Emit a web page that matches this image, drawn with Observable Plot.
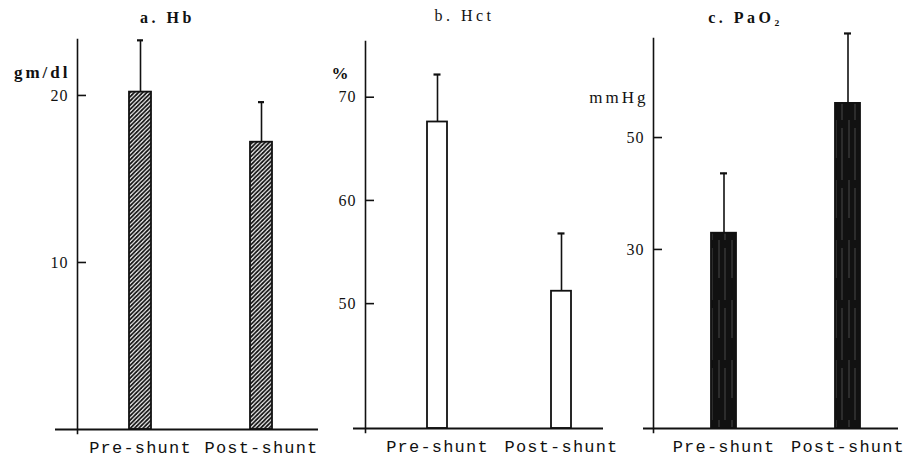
<!DOCTYPE html>
<html>
<head>
<meta charset="utf-8">
<script src="https://cdn.jsdelivr.net/npm/d3@7"></script>
<script src="https://cdn.jsdelivr.net/npm/@observablehq/plot@0.6"></script>
<style>
  html, body { margin: 0; padding: 0; background: #fff; }
  #chart { position: relative; width: 911px; height: 460px; overflow: hidden; }
  #chart svg { position: absolute; left: 0; top: 0; }
  [aria-label="x-axis tick label"] text { letter-spacing: 1.2px; }
  [aria-label="y-axis tick label"] text { letter-spacing: 1px; }
</style>
</head>
<body>
<div id="chart"></div>
<script>
// ---- data ----
const categories = ["Pre-shunt", "Post-shunt"];

const hbMean = [20.2, 17.2];
const hbSD = [3.1, 2.4];
const hbTicks = [10, 20];

const hctMean = [67.6, 51.2];
const hctSD = [4.6, 5.6];
const hctTicks = [50, 60, 70];

const paoMean = [32.9, 56.1];
const paoSD = [10.7, 12.5];
const paoTicks = [30, 50];

const titles = ["a. Hb", "b. Hct", "c. PaO₂"];
const units = ["gm/dl", "%", "mmHg"];

// ---- drawing ----
const W = 911, H = 460;
const chart = document.getElementById("chart");

function panel(o) {
  const data = categories.map((c, i) => ({cat: c, mean: o.mean[i], sd: o.sd[i]}));
  const plot = Plot.plot({
    width: W, height: H,
    marginLeft: o.axisX, marginRight: W - o.baseR, marginTop: o.top, marginBottom: H - o.bottom,
    style: {background: "transparent", overflow: "visible", fontFamily: "'Liberation Serif', serif", fontSize: "16px", color: "#111"},
    x: {domain: categories, paddingInner: o.pi, paddingOuter: o.po, align: o.align, axis: null},
    y: {domain: o.domain, axis: null},
    marks: [
      Plot.barY(data, {x: "cat", y1: o.domain[0], y2: "mean", fill: o.fill, stroke: "#111", strokeWidth: 1.8}),
      Plot.ruleX(data, {x: "cat", y1: "mean", y2: d => d.mean + d.sd, stroke: "#111", strokeWidth: 1.6}),
      Plot.tickY(data, {x: "cat", y: d => d.mean + d.sd, insetLeft: o.cap, insetRight: o.cap, stroke: "#111", strokeWidth: 2.2}),
      Plot.ruleY([o.domain[0]], {insetLeft: -(o.axisX - o.baseL), stroke: "#111", strokeWidth: 2}),
      Plot.frame({anchor: "left", insetBottom: -4, stroke: "#111", strokeWidth: 1.6}),
      Plot.axisY({ticks: o.ticks, tickSize: -9, tickPadding: 18, label: null, stroke: "#111", strokeWidth: 1.6, fill: "#111"}),
      Plot.axisX({tickSize: 0, tickPadding: 11, label: null, fontFamily: "'Liberation Mono', monospace", fontSize: 17, fill: "#111"}),
      Plot.text([o.title], {text: d => d, frameAnchor: "top-left", dx: o.titleDx, dy: o.titleDy, lineAnchor: "bottom", textAnchor: "middle", fontWeight: o.titleWeight, fontSize: 16, fill: "#111"}),
      Plot.text([o.unit], {text: d => d, frameAnchor: "top-left", dx: o.unitDx, dy: o.unitDy, lineAnchor: "bottom", textAnchor: "end", fontWeight: o.unitWeight, fontSize: 17, fill: "#111"})
    ]
  });
  if (o.defs) d3.select(plot).insert("defs", ":first-child").html(o.defs);
  d3.select(plot).selectAll('g[aria-label="text"] text').each(function () {
    const t = this.textContent;
    if (titles.includes(t)) this.style.letterSpacing = "3.5px";
    else if (units.includes(t)) this.style.letterSpacing = "3px";
  });
  chart.appendChild(plot);
}

const hatchDefs = `
<pattern id="hatch" patternUnits="userSpaceOnUse" width="4.2" height="4.2">
  <rect width="4.2" height="4.2" fill="#fff"/>
  <path d="M-1,1 L1,-1 M0,4.2 L4.2,0 M3.2,5.2 L5.2,3.2" stroke="#111" stroke-width="1.8"/>
</pattern>`;

const darkDefs = `
<pattern id="dark" patternUnits="userSpaceOnUse" width="13" height="60">
  <rect width="13" height="60" fill="#111"/>
  <path d="M4,0 V38 M10,8 V60" stroke="#555" stroke-width="0.8"/>
</pattern>`;

panel({
  mean: hbMean, sd: hbSD, domain: [0, 23.35], ticks: hbTicks,
  axisX: 77, baseL: 55, baseR: 318, top: 39, bottom: 429,
  pi: 0.815, po: 0.4, align: 0.53, cap: 8,
  fill: "url(#hatch)", defs: hatchDefs,
  title: titles[0], titleDx: 90, titleDy: -17, titleWeight: "bold",
  unit: units[0], unitDx: -7, unitDy: 38, unitWeight: "bold"
});

panel({
  mean: hctMean, sd: hctSD, domain: [37.9, 75.4], ticks: hctTicks,
  axisX: 365, baseL: 353, baseR: 603, top: 41, bottom: 428,
  pi: 0.839, po: 0.379, align: 0.66, cap: 6.5,
  fill: "#fff",
  title: titles[1], titleDx: 99, titleDy: -21, titleWeight: "normal",
  unit: units[1], unitDx: -14, unitDy: 37, unitWeight: "bold"
});

panel({
  mean: paoMean, sd: paoSD, domain: [-2, 67.7], ticks: paoTicks,
  axisX: 653, baseL: 643, baseR: 898, top: 38, bottom: 428,
  pi: 0.795, po: 0.38, align: 0.61, cap: 9,
  fill: "url(#dark)", defs: darkDefs,
  title: titles[2], titleDx: 92, titleDy: -16, titleWeight: "bold",
  unit: units[2], unitDx: -5, unitDy: 64, unitWeight: "normal"
});
</script>
</body>
</html>
